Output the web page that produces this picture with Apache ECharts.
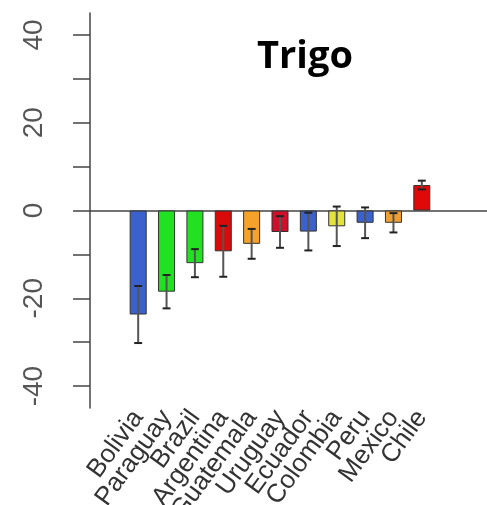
<!DOCTYPE html>
<html>
<head>
<meta charset="utf-8">
<script src="https://cdn.jsdelivr.net/npm/echarts@6/dist/echarts.min.js"></script>
<style>html,body{margin:0;padding:0;background:#fff;}#c{width:487px;height:505px;}</style>
</head>
<body>
<div id="c"></div>
<script>
const categories = ['Bolivia','Paraguay','Brazil','Argentina','Guatemala','Uruguay','Ecuador','Colombia','Peru','Mexico','Chile'];
const values = [-23.7,-18.5,-12.0,-9.3,-7.6,-4.9,-4.8,-3.6,-2.8,-2.8,5.8];
const errors = [6.5,3.8,3.2,5.8,3.4,3.6,4.3,4.5,3.5,2.2,1.0];
const barColors = ['#3b62cc','#22e022','#22e022','#d80a0a','#f4a22a','#d0102a','#3b62cc','#e4e23c','#3b62cc','#f0a030','#e00808'];
const yTicks = [-40,-30,-20,-10,0,10,20,30,40];
const yLabels = [-40,-20,0,20,40];
const titleText = 'Trigo';

const chart = echarts.init(document.getElementById('c'), null, {renderer:'canvas'});
const font = 'Liberation Sans, Arial, sans-serif';
const yRange = {min:-45, max:45};

chart.setOption({
  backgroundColor:'#fff',
  animation:false,
  title:{text:titleText, left:300, textAlign:'center', top:33,
    textStyle:{fontFamily:'Open Sans, sans-serif', fontWeight:'bold', fontSize:38, color:'#000'}},
  grid:[
    {left:90, right:0, top:13, bottom:97, outerBoundsMode:'none', containLabel:false},
    {left:124, right:51, top:13, bottom:97, outerBoundsMode:'none', containLabel:false}
  ],
  xAxis:[
    {gridIndex:0, type:'value', min:0, max:1, show:true,
      axisLine:{show:true, onZero:true, lineStyle:{color:'#444', width:1.5}},
      axisTick:{show:false}, axisLabel:{show:false}, splitLine:{show:false}},
    {gridIndex:1, type:'category', data:categories,
      axisLine:{show:false}, axisTick:{show:false}, splitLine:{show:false},
      axisLabel:{interval:0, rotate:54, margin:5, fontSize:26, color:'#333', fontFamily:font}}
  ],
  yAxis:[
    {gridIndex:0, type:'value', min:yRange.min, max:yRange.max, position:'left',
      axisLine:{show:true, lineStyle:{color:'#444', width:1.5}},
      axisTick:{show:true, length:17, customValues:yTicks, lineStyle:{color:'#444', width:1.5}},
      axisLabel:{show:true, customValues:yLabels, rotate:90, margin:42, fontSize:28, color:'#555', fontFamily:font},
      splitLine:{show:false}},
    {gridIndex:1, type:'value', min:yRange.min, max:yRange.max, show:false, splitLine:{show:false}}
  ],
  series:[
    {type:'bar', xAxisIndex:1, yAxisIndex:1, barWidth:'60%',
      data: values.map((v,i)=>({value:v, itemStyle:{color:barColors[i]}})),
      itemStyle:{borderColor:'#333', borderWidth:1}},
    {type:'custom', xAxisIndex:1, yAxisIndex:1, z:5,
      data: values.map((v,i)=>[i, v, errors[i]]),
      renderItem:function(params, api){
        const x = api.value(0), v = api.value(1), e = api.value(2);
        const hi = api.coord([x, v+e]);
        const lo = api.coord([x, v-e]);
        const half = api.size([1,0])[0]*0.14;
        return {type:'group', children:[
          {type:'line', shape:{x1:hi[0], y1:hi[1], x2:lo[0], y2:lo[1]}, style:{stroke:'#555', lineWidth:2}},
          {type:'line', shape:{x1:hi[0]-half, y1:hi[1], x2:hi[0]+half, y2:hi[1]}, style:{stroke:'#222', lineWidth:2}},
          {type:'line', shape:{x1:lo[0]-half, y1:lo[1], x2:lo[0]+half, y2:lo[1]}, style:{stroke:'#222', lineWidth:2}}
        ]};
      }}
  ]
});
</script>
</body>
</html>
